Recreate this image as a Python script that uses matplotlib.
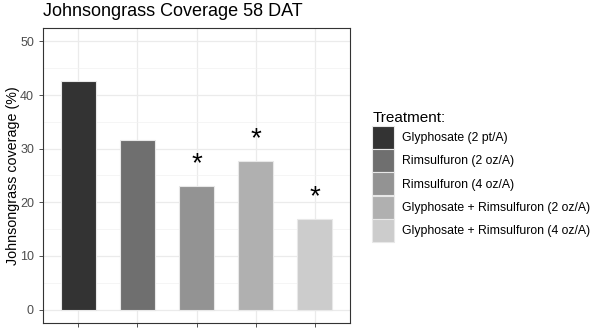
import numpy as np
import matplotlib
matplotlib.use('Agg')
import matplotlib.pyplot as plt
from matplotlib.patches import Patch

plt.rcParams['font.family'] = ['Liberation Sans', 'DejaVu Sans']

treatments = ['Glyphosate (2 pt/A)', 'Rimsulfuron (2 oz/A)', 'Rimsulfuron (4 oz/A)',
              'Glyphosate + Rimsulfuron (2 oz/A)', 'Glyphosate + Rimsulfuron (4 oz/A)']
coverage = [42.7, 31.7, 23.1, 27.7, 16.8]
star_y = [None, None, 28.3, 32.8, 22.1]
colors = ['#333333', '#6f6f6f', '#939393', '#b0b0b0', '#cccccc']

fig = plt.figure(figsize=(6.16, 3.36), dpi=100)
ax = fig.add_axes([43 / 616, 13 / 336, 307 / 616, 295 / 336])

x = np.arange(1, len(coverage) + 1)
ax.bar(x, coverage, width=0.6, color=colors, edgecolor='#e8e8e8', linewidth=0.8, zorder=3)
# the '*' glyph sits high in its box, so nudge it down a few pixels
for xi, sy in zip(x, star_y):
    if sy is not None:
        ax.annotate('*', (xi, sy), xytext=(0, -6), textcoords='offset pixels',
                    ha='center', va='center', fontsize=20, color='black', zorder=4)

ax.set_xlim(0.4, 5.6)
ax.set_ylim(-2.5, 52.5)
ax.set_yticks([0, 10, 20, 30, 40, 50])
ax.set_yticks([5, 15, 25, 35, 45], minor=True)
ax.set_xticks(x)
ax.set_xticklabels([])
ax.grid(which='major', color='#ebebeb', linewidth=0.9, zorder=0)
ax.grid(which='minor', axis='y', color='#f2f2f2', linewidth=0.5, zorder=0)
ax.tick_params(axis='y', which='minor', length=0)
ax.tick_params(axis='both', which='major', colors='#333333', labelcolor='#4d4d4d',
               labelsize=9, length=3, width=0.6)
for s in ax.spines.values():
    s.set_color('#333333')
    s.set_linewidth(0.8)
ax.set_axisbelow(True)

ax.set_ylabel('Johnsongrass coverage (%)', fontsize=10.3, labelpad=0)
fig.text(43 / 616, 1 - 12 / 336, 'Johnsongrass Coverage 58 DAT', fontsize=13,
         ha='left', va='center')

# legend key cell height = fontsize * (0.65 * handleheight + 0.245)
handles = [Patch(facecolor=c, edgecolor='#e8e8e8', linewidth=0.8) for c in colors]
leg = fig.legend(handles, treatments, title='Treatment:', loc='upper left',
                 bbox_to_anchor=(371 / 616, 1 - 110 / 336), frameon=False,
                 fontsize=8.8, title_fontsize=11, handlelength=1.8, handleheight=2.5,
                 labelspacing=0.04, handletextpad=0.6, borderaxespad=0, borderpad=0.1)
leg._legend_box.align = 'left'

fig.savefig('out.png', dpi=100)
